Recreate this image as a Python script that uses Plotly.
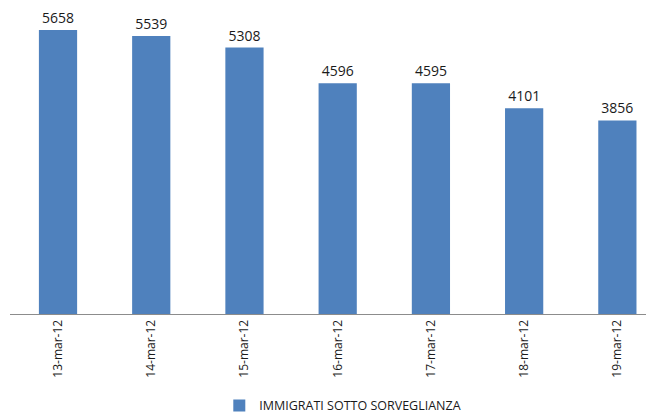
import plotly.graph_objects as go

categories = ["13-mar-12", "14-mar-12", "15-mar-12", "16-mar-12", "17-mar-12", "18-mar-12", "19-mar-12"]
values = [5658, 5539, 5308, 4596, 4595, 4101, 3856]
series_name = "IMMIGRATI SOTTO SORVEGLIANZA"

FONT = "Open Sans, Liberation Sans, sans-serif"

fig = go.Figure()
fig.add_trace(go.Bar(
    x=list(range(len(categories))), y=values, name=series_name,
    marker=dict(color="#4F81BD", line=dict(width=0)),
    width=0.41,
    text=[str(v) for v in values], textposition="outside",
    textfont=dict(family=FONT, size=14, color="#1a1a1a"),
    cliponaxis=False,
))
fig.update_layout(
    width=654, height=414,
    margin=dict(l=2, r=12, t=0, b=108, autoexpand=False),
    plot_bgcolor="white", paper_bgcolor="white",
    showlegend=True,
    legend=dict(orientation="h", x=0.52, xanchor="center", y=-0.30, yanchor="middle",
                font=dict(family=FONT, size=12.5, color="#1a1a1a")),
    xaxis=dict(
        tickmode="array", tickvals=list(range(len(categories))), ticktext=categories,
        tickangle=-90, range=[-0.515, 6.35], automargin=False,
        showline=True, linecolor="#8c8c8c", linewidth=1,
        showgrid=False, zeroline=False, ticks="",
        tickfont=dict(family=FONT, size=12, color="#1a1a1a"),
    ),
    yaxis=dict(range=[0, 6096], visible=False, showgrid=False, zeroline=False, automargin=False),
)
fig.write_html("out.html")
